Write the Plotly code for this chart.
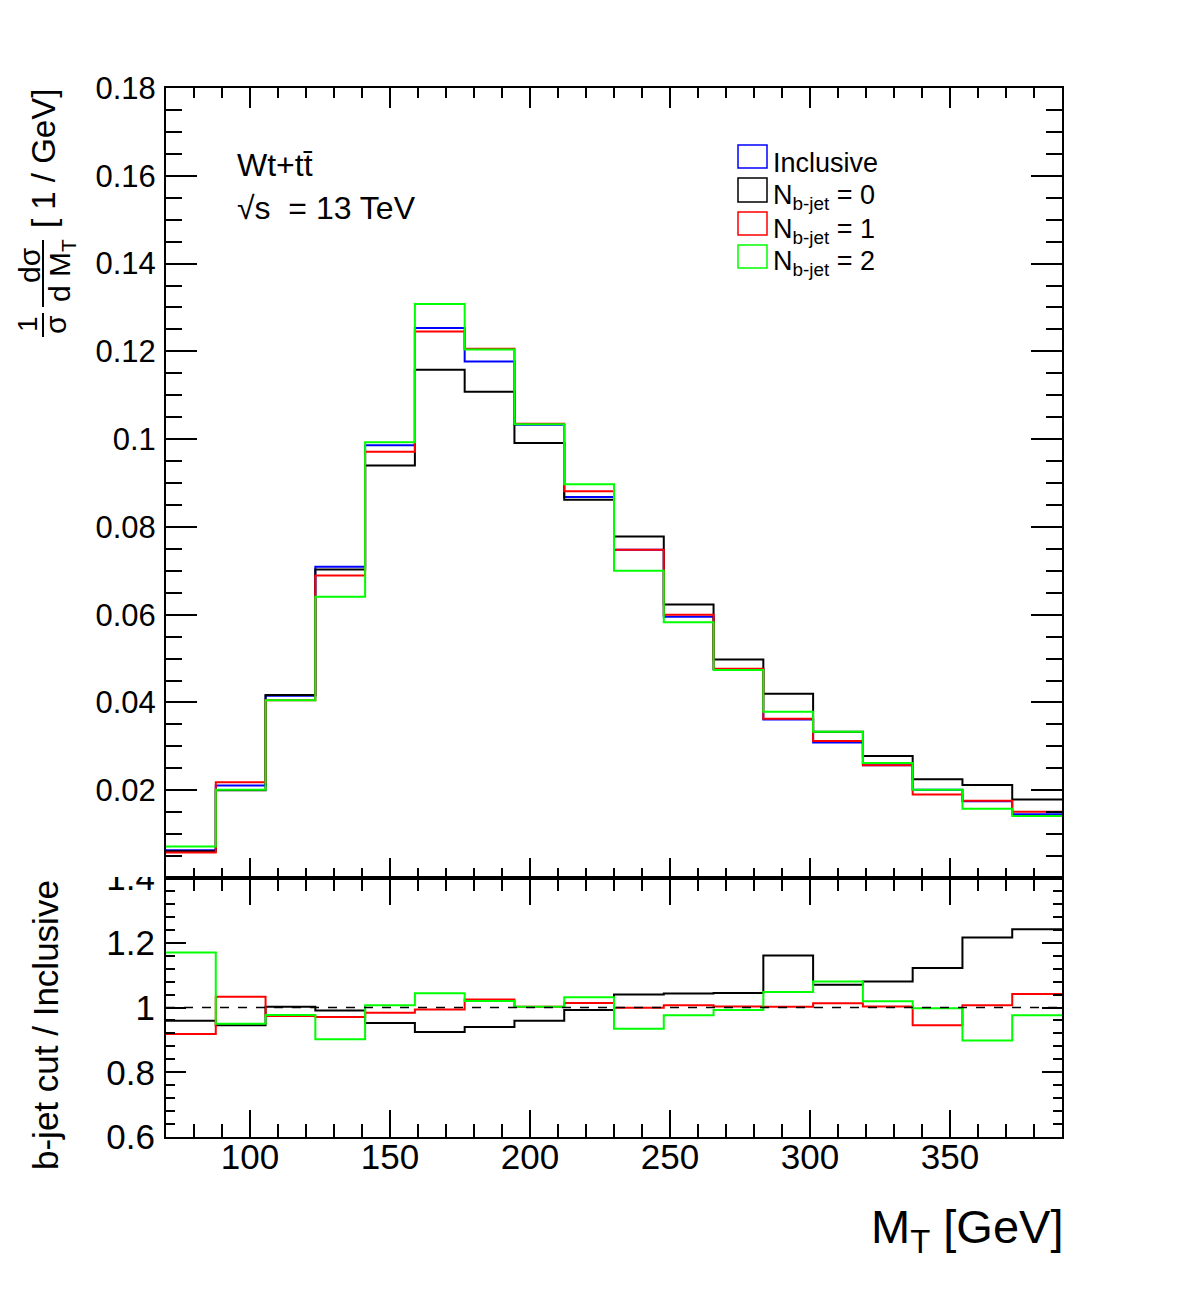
import numpy as np
import plotly.graph_objects as go

W, H = 1182, 1311

# ---------------- data ----------------
bin_edges = list(np.linspace(70, 390, 19))

inclusive = [0.0063, 0.0211, 0.0415, 0.0709, 0.0986, 0.1253, 0.1177, 0.1033, 0.0868,
             0.0748, 0.0595, 0.0476, 0.0361, 0.0309, 0.0257, 0.0201, 0.0175, 0.0145]
nb0 = [0.0061, 0.0200, 0.0417, 0.0703, 0.0940, 0.1158, 0.1108, 0.0991, 0.0862,
       0.0778, 0.0623, 0.0498, 0.0420, 0.0333, 0.0278, 0.0225, 0.0212, 0.0179]
nb1 = [0.0058, 0.0218, 0.0405, 0.0689, 0.0971, 0.1245, 0.1206, 0.1035, 0.0881,
       0.0748, 0.0600, 0.0477, 0.0363, 0.0312, 0.0257, 0.0190, 0.0176, 0.0151]
nb2 = [0.0072, 0.0201, 0.0405, 0.0641, 0.0993, 0.1308, 0.1204, 0.1034, 0.0897,
       0.0700, 0.0583, 0.0474, 0.0379, 0.0333, 0.0262, 0.0201, 0.0158, 0.0141]

ratio0 = [0.959, 0.945, 1.002, 0.991, 0.952, 0.924, 0.940, 0.959, 0.992,
          1.040, 1.043, 1.045, 1.161, 1.070, 1.080, 1.122, 1.216, 1.242]
ratio1 = [0.918, 1.033, 0.974, 0.971, 0.984, 0.994, 1.025, 1.002, 1.014,
          0.999, 1.007, 1.003, 1.002, 1.013, 1.003, 0.945, 1.007, 1.042]
ratio2 = [1.170, 0.950, 0.977, 0.902, 1.007, 1.044, 1.020, 1.002, 1.032,
          0.934, 0.976, 0.992, 1.048, 1.080, 1.019, 0.998, 0.898, 0.976]

main_yticks = [0.02, 0.04, 0.06, 0.08, 0.10, 0.12, 0.14, 0.16, 0.18]
main_ytext = ["0.02", "0.04", "0.06", "0.08", "0.1", "0.12", "0.14", "0.16", "0.18"]
ratio_yticks = [0.6, 0.8, 1.0, 1.2, 1.4]
ratio_ytext = ["0.6", "0.8", "1", "1.2", "1.4"]
xticks = [100, 150, 200, 250, 300, 350]
xtext = ["100", "150", "200", "250", "300", "350"]

series_main = [("Inclusive", inclusive, "#0000ff"),
               ("N<sub>b-jet</sub> = 0", nb0, "#000000"),
               ("N<sub>b-jet</sub> = 1", nb1, "#ff0000"),
               ("N<sub>b-jet</sub> = 2", nb2, "#00ff00")]
series_ratio = [(ratio0, "#000000"), (ratio1, "#ff0000"), (ratio2, "#00ff00")]

FONT = "Liberation Sans, Arial, Helvetica, sans-serif"


def px(x):
    return x / W


def py(y):
    return 1 - y / H


fig = go.Figure()

for name, vals, col in series_main:
    fig.add_trace(go.Scatter(x=bin_edges, y=list(vals) + [vals[-1]], mode="lines",
                             line=dict(color=col, width=2, shape="hv"),
                             xaxis="x", yaxis="y", showlegend=False, name=name))

for vals, col in series_ratio:
    fig.add_trace(go.Scatter(x=bin_edges, y=list(vals) + [vals[-1]], mode="lines",
                             line=dict(color=col, width=2, shape="hv"),
                             xaxis="x2", yaxis="y2", showlegend=False))

xdom = [px(166), px(1062)]
axis_common = dict(showline=True, linecolor="black", linewidth=2, mirror="allticks",
                   ticks="inside", tickcolor="black", tickwidth=2, showgrid=False,
                   zeroline=False, automargin=False)

fig.update_layout(
    width=W, height=H,
    margin=dict(l=0, r=0, t=0, b=0, autoexpand=False),
    paper_bgcolor="white", plot_bgcolor="white",
    font=dict(family=FONT, color="black"),
    xaxis=dict(domain=xdom, range=[70, 390], anchor="y", showticklabels=False,
               tickvals=xticks, ticklen=20,
               minor=dict(dtick=10, tick0=0, ticklen=10, ticks="inside",
                          tickcolor="black", tickwidth=2),
               **axis_common),
    yaxis=dict(domain=[py(878), py(88)], range=[0, 0.18], anchor="x",
               tickvals=main_yticks, ticktext=main_ytext, ticklen=31,
               tickfont=dict(size=31, family=FONT), ticklabelstandoff=2,
               minor=dict(dtick=0.005, tick0=0, ticklen=16, ticks="inside",
                          tickcolor="black", tickwidth=2),
               **axis_common),
    xaxis2=dict(domain=xdom, range=[70, 390], anchor="y2",
                tickvals=xticks, ticktext=xtext, ticklen=27,
                tickfont=dict(size=35, family=FONT), ticklabelstandoff=-12,
                minor=dict(dtick=10, tick0=0, ticklen=13, ticks="inside",
                           tickcolor="black", tickwidth=2),
                **axis_common),
    yaxis2=dict(domain=[py(1137), py(878)], range=[0.6, 1.4], anchor="x2",
                tickvals=ratio_yticks, ticktext=ratio_ytext, ticklen=20,
                tickfont=dict(size=35, family=FONT), ticklabelstandoff=2,
                minor=dict(dtick=0.04, tick0=0.6, ticklen=9, ticks="inside",
                           tickcolor="black", tickwidth=2),
                **axis_common),
)

shapes = []
# dashed unity line in ratio panel
shapes.append(dict(type="line", xref="x2", yref="y2", x0=70, x1=390, y0=1, y1=1,
                   line=dict(color="black", width=1.5, dash="dash")))
# white mask hiding the top part of the "1.4" label (covered by upper pad)
shapes.append(dict(type="rect", xref="paper", yref="paper", x0=px(60), x1=px(163),
                   y0=py(877), y1=py(855), line=dict(width=0), fillcolor="white",
                   layer="above"))

annotations = []
# legend
legend_boxes = [(145, 168), (178, 202), (212, 235), (245, 268)]
for (name, vals, col), (y0, y1) in zip(series_main, legend_boxes):
    shapes.append(dict(type="rect", xref="paper", yref="paper",
                       x0=px(738), x1=px(767), y0=py(y1), y1=py(y0),
                       line=dict(color=col, width=1.5), fillcolor="rgba(0,0,0,0)"))
    annotations.append(dict(text=name, x=px(771), y=py((y0 + y1) / 2 + (6 if name == "Inclusive" else 7)),
                            xref="paper", yref="paper", xanchor="left", yanchor="middle",
                            showarrow=False, font=dict(size=27, family=FONT)))

annotations.append(dict(text="Wt+tt\u0304", x=px(235), y=py(165), xref="paper", yref="paper",
                        xanchor="left", yanchor="middle", showarrow=False,
                        font=dict(size=32, family=FONT)))
annotations.append(dict(text="\u221as  = 13 TeV", x=px(235), y=py(208), xref="paper", yref="paper",
                        xanchor="left", yanchor="middle", showarrow=False,
                        font=dict(size=32, family=FONT)))

# y title of upper panel (fractions built from parts)
annotations.append(dict(text="[ 1 / GeV]", x=px(44), y=py(159), xref="paper", yref="paper",
                        xanchor="center", yanchor="middle", textangle=-90, showarrow=False,
                        font=dict(size=33, family=FONT)))
annotations.append(dict(text="1", x=px(27), y=py(324), xref="paper", yref="paper",
                        xanchor="center", yanchor="middle", textangle=-90, showarrow=False,
                        font=dict(size=28, family=FONT)))
annotations.append(dict(text="\u03c3", x=px(55), y=py(325), xref="paper", yref="paper",
                        xanchor="center", yanchor="middle", textangle=-90, showarrow=False,
                        font=dict(size=30, family=FONT)))
annotations.append(dict(text="d\u03c3", x=px(29), y=py(265), xref="paper", yref="paper",
                        xanchor="center", yanchor="middle", textangle=-90, showarrow=False,
                        font=dict(size=30, family=FONT)))
annotations.append(dict(text="d M<sub>T</sub>", x=px(61), y=py(271), xref="paper", yref="paper",
                        xanchor="center", yanchor="middle", textangle=-90, showarrow=False,
                        font=dict(size=30, family=FONT)))
shapes.append(dict(type="line", xref="paper", yref="paper", x0=px(43), x1=px(43),
                   y0=py(337), y1=py(313), line=dict(color="black", width=2)))
shapes.append(dict(type="line", xref="paper", yref="paper", x0=px(43), x1=px(43),
                   y0=py(307), y1=py(240), line=dict(color="black", width=2)))

# y title of ratio panel
annotations.append(dict(text="b-jet cut / Inclusive", x=px(45), y=py(1025), xref="paper", yref="paper",
                        xanchor="center", yanchor="middle", textangle=-90, showarrow=False,
                        font=dict(size=35, family=FONT)))
# x title
annotations.append(dict(text="M<sub>T</sub> [GeV]", x=px(1065), y=py(1230), xref="paper", yref="paper",
                        xanchor="right", yanchor="middle", showarrow=False,
                        font=dict(size=47, family=FONT)))

fig.update_layout(shapes=shapes, annotations=annotations)

fig.write_html("out.html")
